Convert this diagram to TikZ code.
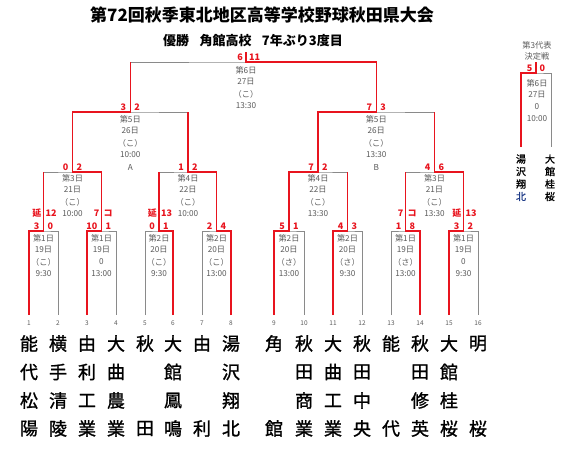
\documentclass[tikz,border=0pt]{standalone}
\usepackage{fontspec}
\setmainfont{Noto Sans CJK JP}
\newfontfamily\namefont[FakeBold=1.2]{Noto Sans CJK JP}
\definecolor{linegray}{HTML}{8A8A8A}
\definecolor{winred}{HTML}{E8141E}
\definecolor{infogray}{HTML}{5A5A5A}
\definecolor{navyblue}{HTML}{1F3C88}

% name, x, y, gap, left text, right text, style
\newcommand\pairlbl[7]{%
  \node[#7,anchor=east] (#1l) at (#2-#4,#3) {#5};
  \node[#7,anchor=west] (#1r) at (#2+#4,#3) {#6};
}
% name, x, first y, spacing, list
\newcommand\infotext[5]{%
  \foreach \t [count=\k] in {#5} \node[info] (#1-\k) at (#2,#3+#4*\k-#4) {\t};
}
% x, id, four characters
\newcommand\teamfour[6]{%
  \node[tm] (#2a) at (#1,343.5) {#3};
  \node[tm] (#2b) at (#1,372) {#4};
  \node[tm] (#2c) at (#1,400.5) {#5};
  \node[tm] (#2d) at (#1,428.5) {#6};
}
% x, id, first and last character
\newcommand\teamtwo[4]{%
  \node[tm] (#2a) at (#1,343.5) {#3};
  \node[tm] (#2d) at (#1,428.5) {#4};
}

\begin{document}
\begin{tikzpicture}[x=1pt,y=-1pt,
  gl/.style={draw=linegray,line width=0.8pt},
  rl/.style={draw=winred,line width=1.5pt},
  sc/.style={text=winred,font=\fontsize{9}{10}\selectfont\bfseries,inner sep=0pt},
  info/.style={text=infogray,font=\fontsize{8.2}{10}\selectfont,inner sep=0pt},
  num/.style={text=infogray,font=\fontsize{6.5}{8}\selectfont,inner sep=0pt},
  tm/.style={font=\namefont\fontsize{18}{20}\selectfont,inner sep=0pt},
  tms/.style={font=\namefont\fontsize{10}{12}\selectfont,inner sep=0pt},
]
\useasboundingbox (0,0) rectangle (565,459);

% titles
\node[font=\fontsize{17}{20}\selectfont\bfseries,inner sep=0pt] (title) at (262,14.5) {第72回秋季東北地区高等学校野球秋田県大会};
\node[font=\fontsize{13}{16}\selectfont\bfseries,inner sep=0pt] (sub) at (253,41) {優勝\hspace{0.8em}角館高校\hspace{0.8em}7年ぶり3度目};

% team coordinates and numbers
\foreach \x [count=\i] in {29,58,87,116,145,173,202,231,274,304,333,362,391,420,449,478} {
  \coordinate (T\i) at (\x,315);
  \node[num] (n\i) at (\x,323) {\i};
}

% match points
\coordinate (m1) at (43.5,231);
\coordinate (m2) at (101.5,231);
\coordinate (m3) at (159,231);
\coordinate (m4) at (216.5,231);
\coordinate (m5) at (289,231);
\coordinate (m6) at (347.5,231);
\coordinate (m7) at (405.5,231);
\coordinate (m8) at (463.5,231);
\coordinate (r1) at (72.5,172);
\coordinate (r2) at (188,172);
\coordinate (r3) at (318,172);
\coordinate (r4) at (434.5,172);
\coordinate (s1) at (130.25,112);
\coordinate (s2) at (376.25,112);
\coordinate (f) at (246,62);
\coordinate (ftop) at (246,52);

% gray bracket
\foreach \a/\b/\m in {1/2/1,3/4/2,5/6/3,7/8/4,9/10/5,11/12/6,13/14/7,15/16/8}
  \draw[gl] (T\a) |- (m\m) -| (T\b);
\draw[gl] (m1) |- (r1) -| (m2);
\draw[gl] (m3) |- (r2) -| (m4);
\draw[gl] (m5) |- (r3) -| (m6);
\draw[gl] (m7) |- (r4) -| (m8);
\draw[gl] (r1) |- (s1) -| (r2);
\draw[gl] (r3) |- (s2) -| (r4);
\draw[gl] (s1) |- (f) -| (s2);
\draw[gl] (f) -- (ftop);

% red winner paths
\draw[rl] (T1) |- (m1) -- (m1 |- r1);
\draw[rl] (T3) |- (m2) |- (r1) |- (s1) -- (s1 |- f);
\draw[rl] (T6) |- (m3) -- (m3 |- r2);
\draw[rl] (T8) |- (m4) |- (r2) -- (r2 |- s1);
\draw[rl] (T9) |- (m5) |- (r3) |- (s2) |- (f) -- (ftop);
\draw[rl] (T11) |- (m6) -- (m6 |- r3);
\draw[rl] (T14) |- (m7) -- (m7 |- r4);
\draw[rl] (T15) |- (m8) |- (r4) -- (r4 |- s2);

% scores round 1
\pairlbl{a1}{43.5}{226.5}{4}{3}{0}{sc}
\pairlbl{a2}{101.5}{226.5}{4}{10}{1}{sc}
\pairlbl{a3}{159}{226.5}{4}{0}{1}{sc}
\pairlbl{a4}{216.5}{226.5}{4}{2}{4}{sc}
\pairlbl{a5}{289}{226.5}{4}{5}{1}{sc}
\pairlbl{a6}{347.5}{226.5}{4}{4}{3}{sc}
\pairlbl{a7}{405.5}{226.5}{4}{1}{8}{sc}
\pairlbl{a8}{463.5}{226.5}{4}{3}{2}{sc}
% annotations
\pairlbl{e1}{43.5}{213}{2}{延}{12}{sc}
\pairlbl{e2}{101.5}{213}{2}{7}{コ}{sc}
\pairlbl{e3}{159}{213}{2}{延}{13}{sc}
\pairlbl{e7}{405.5}{213}{2}{7}{コ}{sc}
\pairlbl{e8}{463.5}{213}{2}{延}{13}{sc}
% scores round 2
\pairlbl{b1}{72.5}{167}{4}{0}{2}{sc}
\pairlbl{b2}{188}{167}{4}{1}{2}{sc}
\pairlbl{b3}{318}{167}{4}{7}{2}{sc}
\pairlbl{b4}{434.5}{167}{4}{4}{6}{sc}
% semis and final
\pairlbl{c1}{130.25}{107}{4}{3}{2}{sc}
\pairlbl{c2}{376.25}{107}{4}{7}{3}{sc}
\pairlbl{d1}{246}{57}{3}{6}{11}{sc}

% match information
\infotext{i1}{43.5}{238}{12}{第1日,19日,（こ）,9:30}
\infotext{i2}{101.5}{238}{12}{第1日,19日,0,13:00}
\infotext{i3}{159}{238}{12}{第2日,20日,（こ）,9:30}
\infotext{i4}{216.5}{238}{12}{第2日,20日,（こ）,13:00}
\infotext{i5}{289}{238}{12}{第2日,20日,（さ）,13:00}
\infotext{i6}{347.5}{238}{12}{第2日,20日,（さ）,9:30}
\infotext{i7}{405.5}{238}{12}{第1日,19日,（さ）,13:00}
\infotext{i8}{463.5}{238}{12}{第1日,19日,0,9:30}
\infotext{j1}{72.5}{178}{12}{第3日,21日,（こ）,10:00}
\infotext{j2}{188}{178}{12}{第4日,22日,（こ）,10:00}
\infotext{j3}{318}{178}{12}{第4日,22日,（こ）,13:30}
\infotext{j4}{434.5}{178}{12}{第3日,21日,（こ）,13:30}
\infotext{k1}{130.25}{119}{12}{第5日,26日,（こ）,10:00,A}
\infotext{k2}{376.25}{119}{12}{第5日,26日,（こ）,13:30,B}
\infotext{fi}{246}{70}{12}{第6日,27日,（こ）,13:30}

% team names
\teamfour{29}{t1}{能}{代}{松}{陽}
\teamfour{58}{t2}{横}{手}{清}{陵}
\teamfour{87}{t3}{由}{利}{工}{業}
\teamfour{116}{t4}{大}{曲}{農}{業}
\teamtwo{145}{t5}{秋}{田}
\teamfour{173}{t6}{大}{館}{鳳}{鳴}
\teamtwo{202}{t7}{由}{利}
\teamfour{231}{t8}{湯}{沢}{翔}{北}
\teamtwo{274}{t9}{角}{館}
\teamfour{304}{t10}{秋}{田}{商}{業}
\teamfour{333}{t11}{大}{曲}{工}{業}
\teamfour{362}{t12}{秋}{田}{中}{央}
\teamtwo{391}{t13}{能}{代}
\teamfour{420}{t14}{秋}{田}{修}{英}
\teamfour{449}{t15}{大}{館}{桂}{桜}
\teamtwo{478}{t16}{明}{桜}

% third representative decider
\node[info] (q1) at (537,45) {第3代表};
\node[info] (q2) at (537,56.5) {決定戦};
\coordinate (q) at (536,73);
\coordinate (qtop) at (536,62);
\coordinate (QL) at (521,147);
\coordinate (QR) at (551,147);
\draw[gl] (QL) |- (q) -| (QR);
\draw[gl] (q) -- (qtop);
\draw[rl] (QL) |- (q) -- (qtop);
\pairlbl{qs}{536}{68}{3.5}{5}{0}{sc}
\infotext{qi}{537}{83}{12}{第6日,27日,0,10:00}
\node[tms] (u1) at (521,159) {湯};
\node[tms] (u2) at (521,171.5) {沢};
\node[tms] (u3) at (521,184) {翔};
\node[tms,text=navyblue] (u4) at (521,196.5) {北};
\node[tms] (v1) at (550,159) {大};
\node[tms] (v2) at (550,171.5) {館};
\node[tms] (v3) at (550,184) {桂};
\node[tms] (v4) at (550,196.5) {桜};
\end{tikzpicture}
\end{document}
